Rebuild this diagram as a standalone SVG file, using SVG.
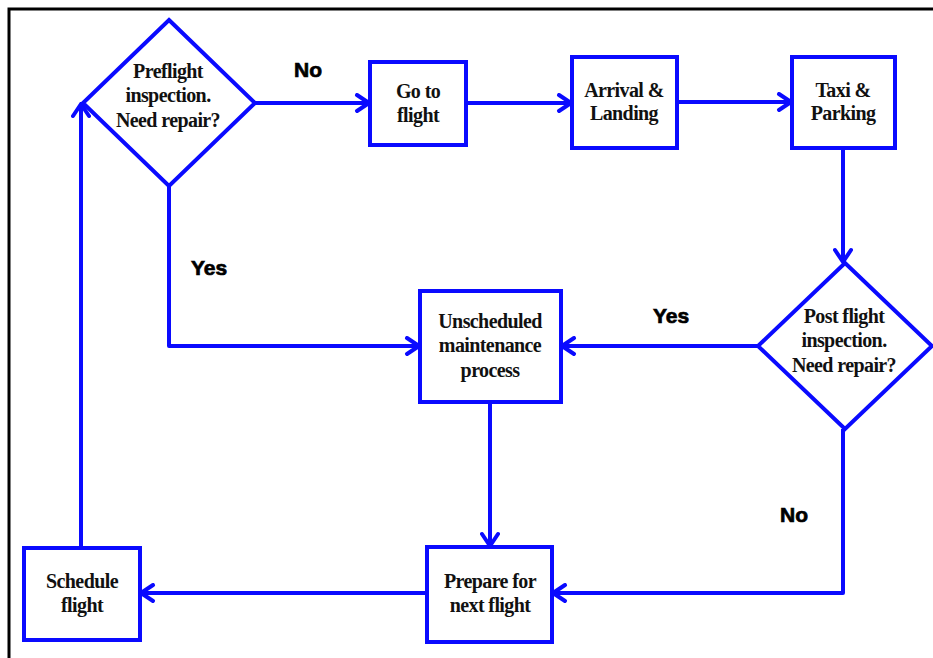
<svg xmlns="http://www.w3.org/2000/svg" width="933" height="658" viewBox="0 0 933 658">
<defs>
<style>
.n{fill:#fff;stroke:#0a0aff;stroke-width:4}
.c{fill:none;stroke:#0a0aff;stroke-width:4;stroke-linejoin:round}
.t{font-family:"Liberation Serif","Times New Roman",serif;font-weight:bold;font-size:20px;fill:#111;text-anchor:middle;letter-spacing:-0.6px}
.l{font-family:"Liberation Sans",Arial,sans-serif;font-weight:bold;font-size:21px;fill:#000;stroke:#000;stroke-width:0.7;text-anchor:middle}
</style>
<marker id="a" viewBox="0 0 20 20" refX="18" refY="10" markerWidth="20" markerHeight="20" markerUnits="userSpaceOnUse" orient="auto">
<path d="M6,2 L18,10 L6,18" fill="none" stroke="#0a0aff" stroke-width="4" stroke-linecap="round" stroke-linejoin="round"/>
</marker>
</defs>
<rect x="0" y="0" width="933" height="658" fill="#fff"/>
<rect x="9" y="9" width="940" height="670" fill="none" stroke="#000" stroke-width="3"/>
<g id="connectors">
<path class="c" d="M255,103 H369" marker-end="url(#a)"/>
<path class="c" d="M466,103 H571" marker-end="url(#a)"/>
<path class="c" d="M677,102 H791" marker-end="url(#a)"/>
<path class="c" d="M843,148 V262" marker-end="url(#a)"/>
<path class="c" d="M758,346 H562" marker-end="url(#a)"/>
<path class="c" d="M169,186 V346 H419" marker-end="url(#a)"/>
<path class="c" d="M490,402 V546" marker-end="url(#a)"/>
<path class="c" d="M843,429 V593 H553" marker-end="url(#a)"/>
<path class="c" d="M427,593 H141" marker-end="url(#a)"/>
<path class="c" d="M81,548 V104" marker-end="url(#a)"/>
<text class="l" x="308" y="77">No</text>
<text class="l" x="209" y="275">Yes</text>
<text class="l" x="671" y="323">Yes</text>
<text class="l" x="794" y="522">No</text>
</g>
<g id="preflight">
<polygon class="n" points="169,20 255,103 169,186 83,103"/>
<text class="t" x="168" y="78">Preflight</text>
<text class="t" x="168" y="102">inspection.</text>
<text class="t" x="168" y="127">Need repair?</text>
</g>
<g id="goto">
<rect class="n" x="370" y="62" width="96" height="83"/>
<text class="t" x="418" y="98">Go to</text>
<text class="t" x="418" y="122">flight</text>
</g>
<g id="arrival">
<rect class="n" x="572" y="57" width="105" height="91"/>
<text class="t" x="624" y="97">Arrival &amp;</text>
<text class="t" x="624" y="120">Landing</text>
</g>
<g id="taxi">
<rect class="n" x="792" y="57" width="103" height="91"/>
<text class="t" x="843" y="97">Taxi &amp;</text>
<text class="t" x="843" y="120">Parking</text>
</g>
<g id="postflight">
<polygon class="n" points="845,263 932,346 845,429 758,346"/>
<text class="t" x="844" y="323">Post flight</text>
<text class="t" x="844" y="347">inspection.</text>
<text class="t" x="844" y="372">Need repair?</text>
</g>
<g id="unscheduled">
<rect class="n" x="420" y="291" width="141" height="111"/>
<text class="t" x="490" y="328">Unscheduled</text>
<text class="t" x="490" y="352">maintenance</text>
<text class="t" x="490" y="377">process</text>
</g>
<g id="prepare">
<rect class="n" x="427" y="547" width="125" height="95"/>
<text class="t" x="490" y="588">Prepare for</text>
<text class="t" x="490" y="612">next flight</text>
</g>
<g id="schedule">
<rect class="n" x="24" y="548" width="116" height="92"/>
<text class="t" x="82" y="588">Schedule</text>
<text class="t" x="82" y="612">flight</text>
</g>
</svg>
